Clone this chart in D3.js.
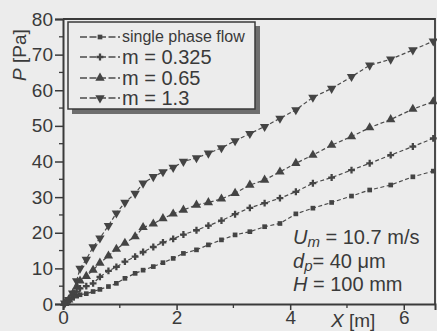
<!DOCTYPE html>
<html><head><meta charset="utf-8">
<script src="https://cdn.jsdelivr.net/npm/d3@7"></script>
<style>
html,body{margin:0;padding:0;background:#ececec;}
svg{display:block;font-family:"Liberation Sans",Arial,sans-serif;}
</style></head>
<body><svg id="c" width="437" height="331"></svg>
<script>
// ---- data ----
const xPos = [0.03,0.1,0.17,0.24,0.3,0.41,0.53,0.65,0.8,0.94,1.09,1.27,1.41,1.59,1.76,1.94,2.12,2.35,2.56,2.79,3.03,3.29,3.55,3.82,4.1,4.4,4.73,5.08,5.4,5.77,6.16,6.52];
const pSingle = [0.1,0.8,1.6,2.2,2.6,2.9,3.5,4.1,4.9,5.8,7.2,8.6,9.5,10.5,11.6,12.8,14.2,15.2,16.6,18,19.4,20.3,21.7,22.6,25.3,26.9,28.5,30.3,32,33.4,35.7,37.3];
const pM0325 = [0.2,1,2.3,3.5,4.4,5,5.8,7.6,9.3,10.4,11.9,13.3,14.6,16,17.3,18.3,19.5,20.7,22,23.4,25.2,27,28.3,29.7,31.5,33.9,35.5,37.6,39.5,41.8,44.2,46.5];
const pM065 = [0.2,1.2,2.8,4.8,6.5,7.8,9.5,11.5,13.5,15.4,17.1,18.9,21.5,22.5,24,25.3,26.4,27.8,28.5,29.5,31.1,33.4,34.8,37.1,39.5,41.8,44.6,47,49.5,51.8,54.7,56.8];
const pM13 = [0.2,1.2,3,6.5,10,12.5,16,18.5,22,25.5,28.5,31,33.9,35.7,37.1,38.3,40,41,42.3,43.8,45.8,47.8,49.8,52.1,54.5,58,60.5,63.8,67,68.7,71.3,73.8];
const seriesNames = ["single phase flow","m = 0.325","m = 0.65","m = 1.3"];
const xTicks = [0,2,4,6];
const yTicks = [0,10,20,30,40,50,60,70,80];

const svg = d3.select("#c");
const ink = "#3a3a3a";
const x = d3.scaleLinear().domain([0,6.55]).range([63,435]);
const y = d3.scaleLinear().domain([0,80]).range([304,19]);

const series = [
  {name:seriesNames[0], vals:pSingle, sym:d3.symbolSquare, size:22, rot:0},
  {name:seriesNames[1], vals:pM0325, sym:d3.symbolCross, size:26, rot:0},
  {name:seriesNames[2], vals:pM065, sym:d3.symbolTriangle, size:38, rot:0},
  {name:seriesNames[3], vals:pM13, sym:d3.symbolTriangle, size:38, rot:180}
];

// frame (top and right)
svg.append("path").attr("d",`M${x(0)},${y(80)}H${x(6.55)}V${y(0)}`)
  .attr("fill","none").attr("stroke",ink).attr("stroke-width",1.8);

// axes
const yAxis = d3.axisLeft(y).tickValues(yTicks).tickSize(8).tickPadding(2);
const gy = svg.append("g").attr("transform",`translate(${x(0)},0)`).call(yAxis);
gy.select(".domain").attr("stroke",ink).attr("stroke-width",2);
gy.selectAll(".tick line").attr("stroke",ink).attr("stroke-width",1.5);
gy.selectAll(".tick text").attr("fill",ink).attr("font-size",19);
const yMinor = d3.range(5,80,10);
svg.append("g").selectAll("line").data(yMinor).join("line")
  .attr("x1",x(0)-4).attr("x2",x(0)).attr("y1",d=>y(d)).attr("y2",d=>y(d))
  .attr("stroke",ink).attr("stroke-width",1.3);

const xAxis = d3.axisBottom(x).tickValues(xTicks).tickSize(6).tickPadding(1).tickFormat(d3.format("d"));
const gx = svg.append("g").attr("transform",`translate(0,${y(0)})`).call(xAxis);
gx.select(".domain").attr("stroke",ink).attr("stroke-width",2);
gx.selectAll(".tick line").attr("stroke",ink).attr("stroke-width",1.5);
gx.selectAll(".tick text").attr("fill",ink).attr("font-size",19);
svg.append("g").selectAll("line").data([1,3,5]).join("line")
  .attr("x1",d=>x(d)).attr("x2",d=>x(d)).attr("y1",y(0)).attr("y2",y(0)+4)
  .attr("stroke",ink).attr("stroke-width",1.3);

// axis titles
const yl = svg.append("text").attr("transform","translate(26,55) rotate(-90)")
  .attr("text-anchor","middle").attr("fill",ink).attr("font-size",19);
yl.append("tspan").attr("font-style","italic").text("P");
yl.append("tspan").text(" [Pa]");
const xl = svg.append("text").attr("x",331).attr("y",327).attr("fill",ink).attr("font-size",19);
xl.append("tspan").attr("font-style","italic").text("X");
xl.append("tspan").text(" [m]");

// series
const line = d3.line().x((d,i)=>x(xPos[i])).y(d=>y(d));
series.forEach(s=>{
  svg.append("path").attr("d",line(s.vals)).attr("fill","none")
    .attr("stroke","#4a4a4a").attr("stroke-width",1.2).attr("stroke-dasharray","4,2.5");
  svg.append("g").selectAll("path").data(s.vals).join("path")
    .attr("d",d3.symbol().type(s.sym).size(s.size))
    .attr("transform",(d,i)=>`translate(${x(xPos[i])},${y(d)}) rotate(${s.rot})`)
    .attr("fill","#444");
});

// legend
svg.append("rect").attr("x",72).attr("y",26).attr("width",188).attr("height",88).attr("fill","#6e6e6e");
svg.append("rect").attr("x",68).attr("y",22).attr("width",187).attr("height",87)
  .attr("fill","#ececec").attr("stroke",ink).attr("stroke-width",1.5);
const ly = [37,57,78,98];
series.forEach((s,i)=>{
  const g = svg.append("g").attr("transform",`translate(0,${ly[i]})`);
  g.append("line").attr("x1",80).attr("x2",120).attr("y1",0).attr("y2",0)
    .attr("stroke","#4a4a4a").attr("stroke-width",1.3).attr("stroke-dasharray","7,2.5");
  g.append("path").attr("d",d3.symbol().type(s.sym).size(s.size))
    .attr("transform",`translate(100,0) rotate(${s.rot})`).attr("fill","#444");
  g.append("text").attr("x",122).attr("y",i===0?5:7).attr("fill",ink)
    .attr("font-size",i===0?16:20).text(s.name);
});

// annotation
const ann = svg.append("g").attr("fill",ink).attr("font-size",20);
const a1 = ann.append("text").attr("x",293).attr("y",244);
a1.append("tspan").attr("font-style","italic").text("U");
a1.append("tspan").attr("font-style","italic").attr("font-size",15).attr("dy",3).text("m");
a1.append("tspan").attr("dy",-3).text(" = 10.7 m/s");
const a2 = ann.append("text").attr("x",293).attr("y",268);
a2.append("tspan").attr("font-style","italic").text("d");
a2.append("tspan").attr("font-style","italic").attr("font-size",15).attr("dy",3).text("p");
a2.append("tspan").attr("dy",-3).text("= 40 μm");
const a3 = ann.append("text").attr("x",293).attr("y",291);
a3.append("tspan").attr("font-style","italic").text("H");
a3.append("tspan").text(" = 100 mm");
</script></body></html>
